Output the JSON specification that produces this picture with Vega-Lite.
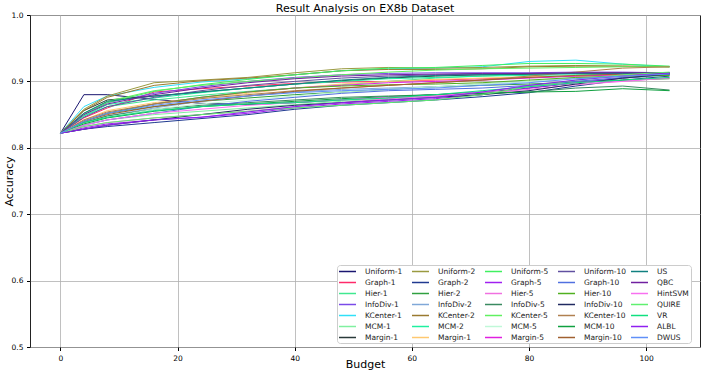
{
"$schema": "https://vega.github.io/schema/vega-lite/v6.json",
"width": 670, "height": 332,
"autosize": {"type": "none"},
"padding": {"left": 30, "top": 15, "right": 4, "bottom": 28},
"title": {"text": "Result Analysis on EX8b Dataset", "fontSize": 11, "font": "DejaVu Sans", "fontWeight": "normal", "color": "#000", "offset": 4, "frame": "group", "anchor": "middle", "dy": 7},
"config": {
  "view": {"stroke": "#222", "strokeWidth": 1},
  "axis": {"grid": true, "gridColor": "#b0b0b0", "gridWidth": 0.8, "domain": false, "tickColor": "#000", "tickSize": 3.5, "labelFont": "DejaVu Sans", "labelFontSize": 7.5, "labelColor": "#000", "titleFont": "DejaVu Sans", "titleFontSize": 11, "titleFontWeight": "normal", "titleColor": "#000", "labelPadding": 3.5}
},
"data": {"values": [
{"s":"Uniform-1","b":0,"a":0.822},{"s":"Uniform-1","b":4,"a":0.880},{"s":"Uniform-1","b":8,"a":0.880},{"s":"Uniform-1","b":16,"a":0.873},{"s":"Uniform-1","b":24,"a":0.867},{"s":"Uniform-1","b":32,"a":0.865},{"s":"Uniform-1","b":40,"a":0.868},{"s":"Uniform-1","b":48,"a":0.872},{"s":"Uniform-1","b":56,"a":0.876},{"s":"Uniform-1","b":64,"a":0.880},{"s":"Uniform-1","b":72,"a":0.884},{"s":"Uniform-1","b":80,"a":0.890},{"s":"Uniform-1","b":88,"a":0.898},{"s":"Uniform-1","b":96,"a":0.905},{"s":"Uniform-1","b":104,"a":0.910},
{"s":"Graph-1","b":0,"a":0.822},{"s":"Graph-1","b":4,"a":0.845},{"s":"Graph-1","b":8,"a":0.860},{"s":"Graph-1","b":16,"a":0.884},{"s":"Graph-1","b":24,"a":0.889},{"s":"Graph-1","b":32,"a":0.893},{"s":"Graph-1","b":40,"a":0.897},{"s":"Graph-1","b":48,"a":0.899},{"s":"Graph-1","b":56,"a":0.900},{"s":"Graph-1","b":64,"a":0.902},{"s":"Graph-1","b":72,"a":0.904},{"s":"Graph-1","b":80,"a":0.906},{"s":"Graph-1","b":88,"a":0.908},{"s":"Graph-1","b":96,"a":0.910},{"s":"Graph-1","b":104,"a":0.911},
{"s":"Hier-1","b":0,"a":0.822},{"s":"Hier-1","b":4,"a":0.848},{"s":"Hier-1","b":8,"a":0.862},{"s":"Hier-1","b":16,"a":0.872},{"s":"Hier-1","b":24,"a":0.879},{"s":"Hier-1","b":32,"a":0.885},{"s":"Hier-1","b":40,"a":0.890},{"s":"Hier-1","b":48,"a":0.895},{"s":"Hier-1","b":56,"a":0.900},{"s":"Hier-1","b":64,"a":0.905},{"s":"Hier-1","b":72,"a":0.908},{"s":"Hier-1","b":80,"a":0.911},{"s":"Hier-1","b":88,"a":0.912},{"s":"Hier-1","b":96,"a":0.912},{"s":"Hier-1","b":104,"a":0.912},
{"s":"InfoDiv-1","b":0,"a":0.822},{"s":"InfoDiv-1","b":4,"a":0.852},{"s":"InfoDiv-1","b":8,"a":0.868},{"s":"InfoDiv-1","b":16,"a":0.882},{"s":"InfoDiv-1","b":24,"a":0.892},{"s":"InfoDiv-1","b":32,"a":0.900},{"s":"InfoDiv-1","b":40,"a":0.906},{"s":"InfoDiv-1","b":48,"a":0.910},{"s":"InfoDiv-1","b":56,"a":0.912},{"s":"InfoDiv-1","b":64,"a":0.913},{"s":"InfoDiv-1","b":72,"a":0.913},{"s":"InfoDiv-1","b":80,"a":0.913},{"s":"InfoDiv-1","b":88,"a":0.914},{"s":"InfoDiv-1","b":96,"a":0.914},{"s":"InfoDiv-1","b":104,"a":0.913},
{"s":"KCenter-1","b":0,"a":0.822},{"s":"KCenter-1","b":4,"a":0.862},{"s":"KCenter-1","b":8,"a":0.878},{"s":"KCenter-1","b":16,"a":0.891},{"s":"KCenter-1","b":24,"a":0.899},{"s":"KCenter-1","b":32,"a":0.904},{"s":"KCenter-1","b":40,"a":0.910},{"s":"KCenter-1","b":48,"a":0.916},{"s":"KCenter-1","b":56,"a":0.919},{"s":"KCenter-1","b":64,"a":0.920},{"s":"KCenter-1","b":72,"a":0.922},{"s":"KCenter-1","b":80,"a":0.930},{"s":"KCenter-1","b":88,"a":0.932},{"s":"KCenter-1","b":96,"a":0.926},{"s":"KCenter-1","b":104,"a":0.922},
{"s":"MCM-1","b":0,"a":0.822},{"s":"MCM-1","b":4,"a":0.835},{"s":"MCM-1","b":8,"a":0.842},{"s":"MCM-1","b":16,"a":0.850},{"s":"MCM-1","b":24,"a":0.855},{"s":"MCM-1","b":32,"a":0.860},{"s":"MCM-1","b":40,"a":0.865},{"s":"MCM-1","b":48,"a":0.870},{"s":"MCM-1","b":56,"a":0.874},{"s":"MCM-1","b":64,"a":0.878},{"s":"MCM-1","b":72,"a":0.884},{"s":"MCM-1","b":80,"a":0.893},{"s":"MCM-1","b":88,"a":0.900},{"s":"MCM-1","b":96,"a":0.905},{"s":"MCM-1","b":104,"a":0.909},
{"s":"Margin-1","b":0,"a":0.822},{"s":"Margin-1","b":4,"a":0.856},{"s":"Margin-1","b":8,"a":0.872},{"s":"Margin-1","b":16,"a":0.878},{"s":"Margin-1","b":24,"a":0.884},{"s":"Margin-1","b":32,"a":0.890},{"s":"Margin-1","b":40,"a":0.896},{"s":"Margin-1","b":48,"a":0.901},{"s":"Margin-1","b":56,"a":0.905},{"s":"Margin-1","b":64,"a":0.908},{"s":"Margin-1","b":72,"a":0.910},{"s":"Margin-1","b":80,"a":0.911},{"s":"Margin-1","b":88,"a":0.912},{"s":"Margin-1","b":96,"a":0.913},{"s":"Margin-1","b":104,"a":0.913},
{"s":"Uniform-2","b":0,"a":0.822},{"s":"Uniform-2","b":4,"a":0.858},{"s":"Uniform-2","b":8,"a":0.878},{"s":"Uniform-2","b":16,"a":0.898},{"s":"Uniform-2","b":24,"a":0.902},{"s":"Uniform-2","b":32,"a":0.906},{"s":"Uniform-2","b":40,"a":0.913},{"s":"Uniform-2","b":48,"a":0.919},{"s":"Uniform-2","b":56,"a":0.921},{"s":"Uniform-2","b":64,"a":0.920},{"s":"Uniform-2","b":72,"a":0.921},{"s":"Uniform-2","b":80,"a":0.923},{"s":"Uniform-2","b":88,"a":0.924},{"s":"Uniform-2","b":96,"a":0.923},{"s":"Uniform-2","b":104,"a":0.922},
{"s":"Graph-2","b":0,"a":0.822},{"s":"Graph-2","b":4,"a":0.828},{"s":"Graph-2","b":8,"a":0.832},{"s":"Graph-2","b":16,"a":0.838},{"s":"Graph-2","b":24,"a":0.844},{"s":"Graph-2","b":32,"a":0.850},{"s":"Graph-2","b":40,"a":0.858},{"s":"Graph-2","b":48,"a":0.864},{"s":"Graph-2","b":56,"a":0.868},{"s":"Graph-2","b":64,"a":0.872},{"s":"Graph-2","b":72,"a":0.877},{"s":"Graph-2","b":80,"a":0.883},{"s":"Graph-2","b":88,"a":0.893},{"s":"Graph-2","b":96,"a":0.902},{"s":"Graph-2","b":104,"a":0.908},
{"s":"Hier-2","b":0,"a":0.822},{"s":"Hier-2","b":4,"a":0.840},{"s":"Hier-2","b":8,"a":0.852},{"s":"Hier-2","b":16,"a":0.862},{"s":"Hier-2","b":24,"a":0.870},{"s":"Hier-2","b":32,"a":0.875},{"s":"Hier-2","b":40,"a":0.880},{"s":"Hier-2","b":48,"a":0.884},{"s":"Hier-2","b":56,"a":0.888},{"s":"Hier-2","b":64,"a":0.892},{"s":"Hier-2","b":72,"a":0.894},{"s":"Hier-2","b":80,"a":0.896},{"s":"Hier-2","b":88,"a":0.899},{"s":"Hier-2","b":96,"a":0.902},{"s":"Hier-2","b":104,"a":0.904},
{"s":"InfoDiv-2","b":0,"a":0.822},{"s":"InfoDiv-2","b":4,"a":0.838},{"s":"InfoDiv-2","b":8,"a":0.848},{"s":"InfoDiv-2","b":16,"a":0.860},{"s":"InfoDiv-2","b":24,"a":0.870},{"s":"InfoDiv-2","b":32,"a":0.878},{"s":"InfoDiv-2","b":40,"a":0.884},{"s":"InfoDiv-2","b":48,"a":0.888},{"s":"InfoDiv-2","b":56,"a":0.890},{"s":"InfoDiv-2","b":64,"a":0.892},{"s":"InfoDiv-2","b":72,"a":0.896},{"s":"InfoDiv-2","b":80,"a":0.900},{"s":"InfoDiv-2","b":88,"a":0.905},{"s":"InfoDiv-2","b":96,"a":0.908},{"s":"InfoDiv-2","b":104,"a":0.910},
{"s":"KCenter-2","b":0,"a":0.822},{"s":"KCenter-2","b":4,"a":0.856},{"s":"KCenter-2","b":8,"a":0.876},{"s":"KCenter-2","b":16,"a":0.894},{"s":"KCenter-2","b":24,"a":0.901},{"s":"KCenter-2","b":32,"a":0.905},{"s":"KCenter-2","b":40,"a":0.910},{"s":"KCenter-2","b":48,"a":0.916},{"s":"KCenter-2","b":56,"a":0.918},{"s":"KCenter-2","b":64,"a":0.918},{"s":"KCenter-2","b":72,"a":0.919},{"s":"KCenter-2","b":80,"a":0.922},{"s":"KCenter-2","b":88,"a":0.923},{"s":"KCenter-2","b":96,"a":0.923},{"s":"KCenter-2","b":104,"a":0.922},
{"s":"MCM-2","b":0,"a":0.822},{"s":"MCM-2","b":4,"a":0.848},{"s":"MCM-2","b":8,"a":0.865},{"s":"MCM-2","b":16,"a":0.875},{"s":"MCM-2","b":24,"a":0.883},{"s":"MCM-2","b":32,"a":0.890},{"s":"MCM-2","b":40,"a":0.896},{"s":"MCM-2","b":48,"a":0.900},{"s":"MCM-2","b":56,"a":0.904},{"s":"MCM-2","b":64,"a":0.906},{"s":"MCM-2","b":72,"a":0.908},{"s":"MCM-2","b":80,"a":0.909},{"s":"MCM-2","b":88,"a":0.910},{"s":"MCM-2","b":96,"a":0.911},{"s":"MCM-2","b":104,"a":0.911},
{"s":"Margin-2","b":0,"a":0.822},{"s":"Margin-2","b":4,"a":0.842},{"s":"Margin-2","b":8,"a":0.856},{"s":"Margin-2","b":16,"a":0.868},{"s":"Margin-2","b":24,"a":0.875},{"s":"Margin-2","b":32,"a":0.882},{"s":"Margin-2","b":40,"a":0.890},{"s":"Margin-2","b":48,"a":0.896},{"s":"Margin-2","b":56,"a":0.900},{"s":"Margin-2","b":64,"a":0.903},{"s":"Margin-2","b":72,"a":0.905},{"s":"Margin-2","b":80,"a":0.907},{"s":"Margin-2","b":88,"a":0.908},{"s":"Margin-2","b":96,"a":0.909},{"s":"Margin-2","b":104,"a":0.910},
{"s":"Uniform-5","b":0,"a":0.822},{"s":"Uniform-5","b":4,"a":0.850},{"s":"Uniform-5","b":8,"a":0.868},{"s":"Uniform-5","b":16,"a":0.885},{"s":"Uniform-5","b":24,"a":0.895},{"s":"Uniform-5","b":32,"a":0.903},{"s":"Uniform-5","b":40,"a":0.910},{"s":"Uniform-5","b":48,"a":0.916},{"s":"Uniform-5","b":56,"a":0.920},{"s":"Uniform-5","b":64,"a":0.921},{"s":"Uniform-5","b":72,"a":0.924},{"s":"Uniform-5","b":80,"a":0.927},{"s":"Uniform-5","b":88,"a":0.927},{"s":"Uniform-5","b":96,"a":0.926},{"s":"Uniform-5","b":104,"a":0.923},
{"s":"Graph-5","b":0,"a":0.822},{"s":"Graph-5","b":4,"a":0.830},{"s":"Graph-5","b":8,"a":0.836},{"s":"Graph-5","b":16,"a":0.842},{"s":"Graph-5","b":24,"a":0.846},{"s":"Graph-5","b":32,"a":0.852},{"s":"Graph-5","b":40,"a":0.860},{"s":"Graph-5","b":48,"a":0.866},{"s":"Graph-5","b":56,"a":0.870},{"s":"Graph-5","b":64,"a":0.874},{"s":"Graph-5","b":72,"a":0.880},{"s":"Graph-5","b":80,"a":0.890},{"s":"Graph-5","b":88,"a":0.898},{"s":"Graph-5","b":96,"a":0.905},{"s":"Graph-5","b":104,"a":0.911},
{"s":"Hier-5","b":0,"a":0.822},{"s":"Hier-5","b":4,"a":0.832},{"s":"Hier-5","b":8,"a":0.838},{"s":"Hier-5","b":16,"a":0.845},{"s":"Hier-5","b":24,"a":0.850},{"s":"Hier-5","b":32,"a":0.855},{"s":"Hier-5","b":40,"a":0.862},{"s":"Hier-5","b":48,"a":0.868},{"s":"Hier-5","b":56,"a":0.874},{"s":"Hier-5","b":64,"a":0.878},{"s":"Hier-5","b":72,"a":0.882},{"s":"Hier-5","b":80,"a":0.888},{"s":"Hier-5","b":88,"a":0.895},{"s":"Hier-5","b":96,"a":0.900},{"s":"Hier-5","b":104,"a":0.905},
{"s":"InfoDiv-5","b":0,"a":0.822},{"s":"InfoDiv-5","b":4,"a":0.838},{"s":"InfoDiv-5","b":8,"a":0.848},{"s":"InfoDiv-5","b":16,"a":0.858},{"s":"InfoDiv-5","b":24,"a":0.864},{"s":"InfoDiv-5","b":32,"a":0.868},{"s":"InfoDiv-5","b":40,"a":0.872},{"s":"InfoDiv-5","b":48,"a":0.876},{"s":"InfoDiv-5","b":56,"a":0.878},{"s":"InfoDiv-5","b":64,"a":0.880},{"s":"InfoDiv-5","b":72,"a":0.882},{"s":"InfoDiv-5","b":80,"a":0.884},{"s":"InfoDiv-5","b":88,"a":0.890},{"s":"InfoDiv-5","b":96,"a":0.893},{"s":"InfoDiv-5","b":104,"a":0.887},
{"s":"KCenter-5","b":0,"a":0.822},{"s":"KCenter-5","b":4,"a":0.852},{"s":"KCenter-5","b":8,"a":0.870},{"s":"KCenter-5","b":16,"a":0.886},{"s":"KCenter-5","b":24,"a":0.894},{"s":"KCenter-5","b":32,"a":0.900},{"s":"KCenter-5","b":40,"a":0.905},{"s":"KCenter-5","b":48,"a":0.910},{"s":"KCenter-5","b":56,"a":0.914},{"s":"KCenter-5","b":64,"a":0.917},{"s":"KCenter-5","b":72,"a":0.919},{"s":"KCenter-5","b":80,"a":0.920},{"s":"KCenter-5","b":88,"a":0.921},{"s":"KCenter-5","b":96,"a":0.922},{"s":"KCenter-5","b":104,"a":0.922},
{"s":"MCM-5","b":0,"a":0.822},{"s":"MCM-5","b":4,"a":0.836},{"s":"MCM-5","b":8,"a":0.846},{"s":"MCM-5","b":16,"a":0.858},{"s":"MCM-5","b":24,"a":0.866},{"s":"MCM-5","b":32,"a":0.872},{"s":"MCM-5","b":40,"a":0.878},{"s":"MCM-5","b":48,"a":0.884},{"s":"MCM-5","b":56,"a":0.888},{"s":"MCM-5","b":64,"a":0.892},{"s":"MCM-5","b":72,"a":0.896},{"s":"MCM-5","b":80,"a":0.900},{"s":"MCM-5","b":88,"a":0.904},{"s":"MCM-5","b":96,"a":0.907},{"s":"MCM-5","b":104,"a":0.909},
{"s":"Margin-5","b":0,"a":0.822},{"s":"Margin-5","b":4,"a":0.840},{"s":"Margin-5","b":8,"a":0.852},{"s":"Margin-5","b":16,"a":0.866},{"s":"Margin-5","b":24,"a":0.876},{"s":"Margin-5","b":32,"a":0.884},{"s":"Margin-5","b":40,"a":0.890},{"s":"Margin-5","b":48,"a":0.894},{"s":"Margin-5","b":56,"a":0.898},{"s":"Margin-5","b":64,"a":0.900},{"s":"Margin-5","b":72,"a":0.902},{"s":"Margin-5","b":80,"a":0.905},{"s":"Margin-5","b":88,"a":0.908},{"s":"Margin-5","b":96,"a":0.910},{"s":"Margin-5","b":104,"a":0.911},
{"s":"Uniform-10","b":0,"a":0.822},{"s":"Uniform-10","b":4,"a":0.846},{"s":"Uniform-10","b":8,"a":0.862},{"s":"Uniform-10","b":16,"a":0.876},{"s":"Uniform-10","b":24,"a":0.886},{"s":"Uniform-10","b":32,"a":0.894},{"s":"Uniform-10","b":40,"a":0.900},{"s":"Uniform-10","b":48,"a":0.905},{"s":"Uniform-10","b":56,"a":0.908},{"s":"Uniform-10","b":64,"a":0.910},{"s":"Uniform-10","b":72,"a":0.911},{"s":"Uniform-10","b":80,"a":0.912},{"s":"Uniform-10","b":88,"a":0.912},{"s":"Uniform-10","b":96,"a":0.913},{"s":"Uniform-10","b":104,"a":0.913},
{"s":"Graph-10","b":0,"a":0.822},{"s":"Graph-10","b":4,"a":0.834},{"s":"Graph-10","b":8,"a":0.842},{"s":"Graph-10","b":16,"a":0.852},{"s":"Graph-10","b":24,"a":0.862},{"s":"Graph-10","b":32,"a":0.870},{"s":"Graph-10","b":40,"a":0.876},{"s":"Graph-10","b":48,"a":0.882},{"s":"Graph-10","b":56,"a":0.886},{"s":"Graph-10","b":64,"a":0.888},{"s":"Graph-10","b":72,"a":0.890},{"s":"Graph-10","b":80,"a":0.894},{"s":"Graph-10","b":88,"a":0.900},{"s":"Graph-10","b":96,"a":0.906},{"s":"Graph-10","b":104,"a":0.910},
{"s":"Hier-10","b":0,"a":0.822},{"s":"Hier-10","b":4,"a":0.840},{"s":"Hier-10","b":8,"a":0.852},{"s":"Hier-10","b":16,"a":0.866},{"s":"Hier-10","b":24,"a":0.876},{"s":"Hier-10","b":32,"a":0.884},{"s":"Hier-10","b":40,"a":0.890},{"s":"Hier-10","b":48,"a":0.893},{"s":"Hier-10","b":56,"a":0.895},{"s":"Hier-10","b":64,"a":0.896},{"s":"Hier-10","b":72,"a":0.898},{"s":"Hier-10","b":80,"a":0.902},{"s":"Hier-10","b":88,"a":0.906},{"s":"Hier-10","b":96,"a":0.908},{"s":"Hier-10","b":104,"a":0.909},
{"s":"InfoDiv-10","b":0,"a":0.822},{"s":"InfoDiv-10","b":4,"a":0.828},{"s":"InfoDiv-10","b":8,"a":0.834},{"s":"InfoDiv-10","b":16,"a":0.842},{"s":"InfoDiv-10","b":24,"a":0.850},{"s":"InfoDiv-10","b":32,"a":0.858},{"s":"InfoDiv-10","b":40,"a":0.864},{"s":"InfoDiv-10","b":48,"a":0.868},{"s":"InfoDiv-10","b":56,"a":0.872},{"s":"InfoDiv-10","b":64,"a":0.876},{"s":"InfoDiv-10","b":72,"a":0.880},{"s":"InfoDiv-10","b":80,"a":0.886},{"s":"InfoDiv-10","b":88,"a":0.896},{"s":"InfoDiv-10","b":96,"a":0.905},{"s":"InfoDiv-10","b":104,"a":0.911},
{"s":"KCenter-10","b":0,"a":0.822},{"s":"KCenter-10","b":4,"a":0.842},{"s":"KCenter-10","b":8,"a":0.854},{"s":"KCenter-10","b":16,"a":0.866},{"s":"KCenter-10","b":24,"a":0.874},{"s":"KCenter-10","b":32,"a":0.880},{"s":"KCenter-10","b":40,"a":0.886},{"s":"KCenter-10","b":48,"a":0.890},{"s":"KCenter-10","b":56,"a":0.894},{"s":"KCenter-10","b":64,"a":0.898},{"s":"KCenter-10","b":72,"a":0.902},{"s":"KCenter-10","b":80,"a":0.908},{"s":"KCenter-10","b":88,"a":0.914},{"s":"KCenter-10","b":96,"a":0.920},{"s":"KCenter-10","b":104,"a":0.922},
{"s":"MCM-10","b":0,"a":0.822},{"s":"MCM-10","b":4,"a":0.836},{"s":"MCM-10","b":8,"a":0.845},{"s":"MCM-10","b":16,"a":0.855},{"s":"MCM-10","b":24,"a":0.862},{"s":"MCM-10","b":32,"a":0.866},{"s":"MCM-10","b":40,"a":0.870},{"s":"MCM-10","b":48,"a":0.874},{"s":"MCM-10","b":56,"a":0.877},{"s":"MCM-10","b":64,"a":0.880},{"s":"MCM-10","b":72,"a":0.882},{"s":"MCM-10","b":80,"a":0.884},{"s":"MCM-10","b":88,"a":0.885},{"s":"MCM-10","b":96,"a":0.889},{"s":"MCM-10","b":104,"a":0.886},
{"s":"Margin-10","b":0,"a":0.822},{"s":"Margin-10","b":4,"a":0.840},{"s":"Margin-10","b":8,"a":0.850},{"s":"Margin-10","b":16,"a":0.862},{"s":"Margin-10","b":24,"a":0.870},{"s":"Margin-10","b":32,"a":0.878},{"s":"Margin-10","b":40,"a":0.885},{"s":"Margin-10","b":48,"a":0.890},{"s":"Margin-10","b":56,"a":0.894},{"s":"Margin-10","b":64,"a":0.898},{"s":"Margin-10","b":72,"a":0.902},{"s":"Margin-10","b":80,"a":0.906},{"s":"Margin-10","b":88,"a":0.909},{"s":"Margin-10","b":96,"a":0.911},{"s":"Margin-10","b":104,"a":0.912},
{"s":"US","b":0,"a":0.822},{"s":"US","b":4,"a":0.852},{"s":"US","b":8,"a":0.870},{"s":"US","b":16,"a":0.878},{"s":"US","b":24,"a":0.884},{"s":"US","b":32,"a":0.890},{"s":"US","b":40,"a":0.896},{"s":"US","b":48,"a":0.902},{"s":"US","b":56,"a":0.906},{"s":"US","b":64,"a":0.909},{"s":"US","b":72,"a":0.910},{"s":"US","b":80,"a":0.911},{"s":"US","b":88,"a":0.912},{"s":"US","b":96,"a":0.912},{"s":"US","b":104,"a":0.912},
{"s":"QBC","b":0,"a":0.822},{"s":"QBC","b":4,"a":0.850},{"s":"QBC","b":8,"a":0.866},{"s":"QBC","b":16,"a":0.880},{"s":"QBC","b":24,"a":0.890},{"s":"QBC","b":32,"a":0.898},{"s":"QBC","b":40,"a":0.904},{"s":"QBC","b":48,"a":0.908},{"s":"QBC","b":56,"a":0.910},{"s":"QBC","b":64,"a":0.911},{"s":"QBC","b":72,"a":0.912},{"s":"QBC","b":80,"a":0.912},{"s":"QBC","b":88,"a":0.913},{"s":"QBC","b":96,"a":0.913},{"s":"QBC","b":104,"a":0.912},
{"s":"HintSVM","b":0,"a":0.822},{"s":"HintSVM","b":4,"a":0.834},{"s":"HintSVM","b":8,"a":0.842},{"s":"HintSVM","b":16,"a":0.852},{"s":"HintSVM","b":24,"a":0.858},{"s":"HintSVM","b":32,"a":0.864},{"s":"HintSVM","b":40,"a":0.868},{"s":"HintSVM","b":48,"a":0.872},{"s":"HintSVM","b":56,"a":0.876},{"s":"HintSVM","b":64,"a":0.878},{"s":"HintSVM","b":72,"a":0.884},{"s":"HintSVM","b":80,"a":0.892},{"s":"HintSVM","b":88,"a":0.898},{"s":"HintSVM","b":96,"a":0.900},{"s":"HintSVM","b":104,"a":0.906},
{"s":"QUIRE","b":0,"a":0.822},{"s":"QUIRE","b":4,"a":0.832},{"s":"QUIRE","b":8,"a":0.838},{"s":"QUIRE","b":16,"a":0.845},{"s":"QUIRE","b":24,"a":0.850},{"s":"QUIRE","b":32,"a":0.855},{"s":"QUIRE","b":40,"a":0.860},{"s":"QUIRE","b":48,"a":0.864},{"s":"QUIRE","b":56,"a":0.868},{"s":"QUIRE","b":64,"a":0.872},{"s":"QUIRE","b":72,"a":0.880},{"s":"QUIRE","b":80,"a":0.892},{"s":"QUIRE","b":88,"a":0.902},{"s":"QUIRE","b":96,"a":0.910},{"s":"QUIRE","b":104,"a":0.914},
{"s":"VR","b":0,"a":0.822},{"s":"VR","b":4,"a":0.838},{"s":"VR","b":8,"a":0.846},{"s":"VR","b":16,"a":0.856},{"s":"VR","b":24,"a":0.862},{"s":"VR","b":32,"a":0.866},{"s":"VR","b":40,"a":0.868},{"s":"VR","b":48,"a":0.872},{"s":"VR","b":56,"a":0.875},{"s":"VR","b":64,"a":0.880},{"s":"VR","b":72,"a":0.886},{"s":"VR","b":80,"a":0.892},{"s":"VR","b":88,"a":0.898},{"s":"VR","b":96,"a":0.902},{"s":"VR","b":104,"a":0.906},
{"s":"ALBL","b":0,"a":0.822},{"s":"ALBL","b":4,"a":0.828},{"s":"ALBL","b":8,"a":0.834},{"s":"ALBL","b":16,"a":0.842},{"s":"ALBL","b":24,"a":0.846},{"s":"ALBL","b":32,"a":0.854},{"s":"ALBL","b":40,"a":0.862},{"s":"ALBL","b":48,"a":0.868},{"s":"ALBL","b":56,"a":0.872},{"s":"ALBL","b":64,"a":0.876},{"s":"ALBL","b":72,"a":0.884},{"s":"ALBL","b":80,"a":0.894},{"s":"ALBL","b":88,"a":0.902},{"s":"ALBL","b":96,"a":0.908},{"s":"ALBL","b":104,"a":0.912},
{"s":"DWUS","b":0,"a":0.822},{"s":"DWUS","b":4,"a":0.840},{"s":"DWUS","b":8,"a":0.852},{"s":"DWUS","b":16,"a":0.864},{"s":"DWUS","b":24,"a":0.872},{"s":"DWUS","b":32,"a":0.878},{"s":"DWUS","b":40,"a":0.883},{"s":"DWUS","b":48,"a":0.886},{"s":"DWUS","b":56,"a":0.888},{"s":"DWUS","b":64,"a":0.890},{"s":"DWUS","b":72,"a":0.894},{"s":"DWUS","b":80,"a":0.898},{"s":"DWUS","b":88,"a":0.904},{"s":"DWUS","b":96,"a":0.908},{"s":"DWUS","b":104,"a":0.911}
]},
"mark": {"type": "line", "strokeWidth": 1, "clip": true},
"encoding": {
  "x": {"field": "b", "type": "quantitative", "scale": {"domain": [-5.2, 109.2], "nice": false, "zero": false}, "axis": {"values": [0, 20, 40, 60, 80, 100], "title": "Budget", "titleY": 20, "titleBaseline": "alphabetic"}},
  "y": {"field": "a", "type": "quantitative", "scale": {"domain": [0.5, 1.0], "nice": false, "zero": false}, "axis": {"values": [0.5, 0.6, 0.7, 0.8, 0.9, 1.0], "format": ".1f", "title": "Accuracy", "titleX": -16, "titleY": 166}},
  "color": {"field": "s", "type": "nominal",
    "scale": {
      "domain": ["Uniform-1","Graph-1","Hier-1","InfoDiv-1","KCenter-1","MCM-1","Margin-1","Uniform-2","Graph-2","Hier-2","InfoDiv-2","KCenter-2","MCM-2","Margin-2","Uniform-5","Graph-5","Hier-5","InfoDiv-5","KCenter-5","MCM-5","Margin-5","Uniform-10","Graph-10","Hier-10","InfoDiv-10","KCenter-10","MCM-10","Margin-10","US","QBC","HintSVM","QUIRE","VR","ALBL","DWUS"],
      "range": ["#1a1670","#ff2a6a","#40e890","#7a4ae8","#30e0f8","#80f0a0","#2a3a3a","#9a9a40","#203a90","#30a040","#80a8d8","#9a7a30","#20f0a0","#ffc870","#40f060","#a020f0","#f070e0","#3a8a60","#60f060","#c0f8d8","#e020e0","#6050a0","#5070e0","#50b020","#202a60","#b08050","#10a040","#a06030","#108080","#7020a0","#f870f0","#60f070","#10e080","#9020f0","#6090f8"]
    },
    "legend": {"title": null, "orient": "none", "legendX": 307, "legendY": 250, "columns": 5, "symbolLimit": 50, "gridAlign": "all", "columnPadding": 0, "rowPadding": 3, "symbolType": "M-2.43,0H2.43", "symbolSize": 49, "symbolOffset": 4, "symbolStrokeWidth": 1.5, "labelFont": "DejaVu Sans", "labelFontSize": 7.5, "labelColor": "#222", "labelOffset": 13, "fillColor": "#ffffff", "strokeColor": "#cccccc", "cornerRadius": 3, "padding": 2,
      "labelExpr": "datum.label == 'Margin-2' ? 'Margin-1' : datum.label"}
  }
}
}
